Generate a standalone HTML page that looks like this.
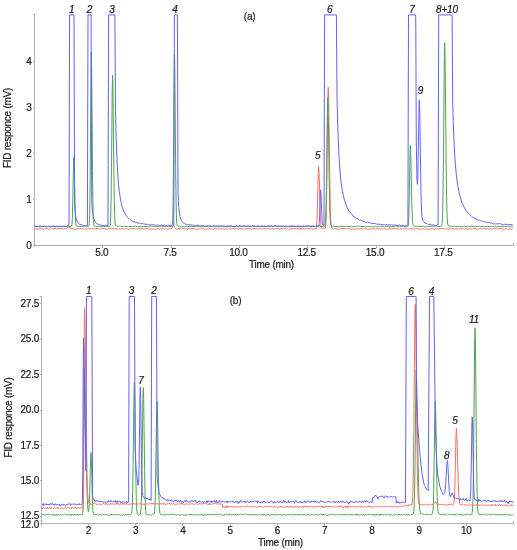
<!DOCTYPE html>
<html><head><meta charset="utf-8"><title>FID chromatograms</title>
<style>html,body{margin:0;padding:0;background:#fff;width:517px;height:550px;overflow:hidden}
svg{display:block;filter:blur(0.3px);font-family:"Liberation Sans",sans-serif}</style></head>
<body>
<svg width="517" height="550" viewBox="0 0 517 550">
<rect width="517" height="550" fill="#fff"/>
<g stroke="#b0b0b0" stroke-width="1" fill="none" shape-rendering="crispEdges">
<path d="M34.5,14.5V247M33,245.5H513.5M513,245.5V243M32.5,14.9H34.5"/>
<path d="M32.5,245.5H34.5"/>
<path d="M32.5,199.4H34.5"/>
<path d="M32.5,153.3H34.5"/>
<path d="M32.5,107.2H34.5"/>
<path d="M32.5,61.1H34.5"/>
<path d="M102.8,245.5V247.5"/>
<path d="M171.1,245.5V247.5"/>
<path d="M239.4,245.5V247.5"/>
<path d="M307.7,245.5V247.5"/>
<path d="M376.0,245.5V247.5"/>
<path d="M444.3,245.5V247.5"/>
<path d="M41.5,296V525.5M40,523.5H513.5M513,523.5V521M39.5,296.5H41.5"/>
<path d="M39.5,523.5H41.5"/>
<path d="M39.5,516.4H41.5"/>
<path d="M39.5,480.9H41.5"/>
<path d="M39.5,445.5H41.5"/>
<path d="M39.5,410.0H41.5"/>
<path d="M39.5,374.5H41.5"/>
<path d="M39.5,339.0H41.5"/>
<path d="M39.5,303.6H41.5"/>
<path d="M88.3,523.5V525.5"/>
<path d="M135.6,523.5V525.5"/>
<path d="M182.8,523.5V525.5"/>
<path d="M230.1,523.5V525.5"/>
<path d="M277.3,523.5V525.5"/>
<path d="M324.6,523.5V525.5"/>
<path d="M371.8,523.5V525.5"/>
<path d="M419.1,523.5V525.5"/>
<path d="M466.3,523.5V525.5"/>
</g>
<g fill="none" stroke-width="1" stroke-linejoin="round">
<path d="M34.80,229.18 35.60,228.75 36.40,228.95 37.20,228.91 38.00,229.29 40.40,228.56 41.20,228.53 42.00,228.83 42.80,228.86 43.60,229.03 44.40,228.69 45.20,228.87 46.80,228.32 48.40,229.22 49.20,229.04 50.00,229.21 50.80,229.14 51.60,228.44 52.40,228.74 53.20,229.22 54.00,228.62 54.80,228.46 55.60,228.90 56.40,228.99 59.60,228.48 62.00,228.43 62.80,228.62 63.60,229.23 64.40,228.84 65.20,228.72 66.00,228.90 66.80,228.41 67.20,228.29 67.60,227.86 68.60,225.77 68.80,225.51 69.00,225.44 69.20,225.56 70.00,227.57 70.60,228.46 70.90,228.62 72.40,228.51 73.20,228.71 74.00,229.48 74.80,228.99 75.60,228.93 76.40,229.08 78.00,228.47 78.80,228.94 79.60,229.12 80.40,228.24 81.20,228.93 82.00,229.15 82.80,228.74 83.60,228.69 84.40,229.00 85.20,228.59 86.00,228.94 86.80,229.06 87.60,228.75 88.40,228.59 89.20,228.98 90.00,228.71 90.80,228.83 91.60,228.02 92.40,229.00 93.20,228.42 94.00,228.82 94.80,228.84 95.60,228.60 97.20,228.45 98.80,228.97 99.60,228.95 100.40,228.66 101.20,228.64 102.00,228.42 102.80,228.69 104.40,228.38 106.00,229.21 106.80,229.13 107.60,229.20 108.40,228.36 109.20,229.04 110.00,228.46 110.80,228.64 111.60,228.33 113.20,228.83 115.60,228.76 116.40,228.95 117.20,228.81 118.00,228.36 118.80,229.27 119.60,228.73 120.40,229.05 122.00,228.57 122.80,228.82 123.60,228.59 124.40,229.24 125.20,228.50 126.00,228.97 126.80,228.63 127.60,228.75 128.40,229.52 129.20,229.01 130.80,228.37 131.60,228.72 132.40,228.73 133.20,229.19 134.00,228.41 134.80,228.30 135.60,228.80 136.40,228.86 137.20,229.25 138.00,228.56 138.80,228.06 139.60,228.61 140.40,228.45 141.20,228.65 142.00,229.08 142.80,228.43 143.60,229.15 144.40,228.86 146.00,228.56 146.80,228.69 147.60,228.70 148.40,229.01 149.20,229.16 150.00,228.79 151.60,229.17 152.40,229.15 153.20,228.94 154.00,229.32 154.80,229.18 155.60,229.26 156.40,228.75 157.20,228.69 158.00,228.25 158.80,229.22 159.60,228.99 160.40,228.55 161.20,228.86 162.00,228.89 162.80,228.33 163.60,228.90 164.40,229.12 165.20,229.17 166.00,228.71 166.80,228.72 167.60,229.18 168.40,229.08 169.20,228.66 170.00,228.64 170.80,228.97 171.20,228.75 172.00,228.00 173.00,226.10 173.40,225.54 173.60,225.43 173.80,225.55 174.00,225.86 174.60,227.31 175.20,228.44 175.70,228.93 176.40,229.39 177.20,228.88 178.80,228.37 179.60,229.41 180.40,228.08 181.20,229.12 182.00,228.54 182.80,228.46 183.60,228.53 184.40,228.76 185.20,229.13 186.00,228.63 187.60,229.50 188.40,228.02 189.20,228.61 190.00,228.30 190.80,229.06 191.60,228.40 193.20,228.37 194.80,229.14 195.60,228.85 196.40,229.41 197.20,229.27 198.00,228.78 198.80,229.08 199.60,228.85 200.40,228.83 201.20,228.27 202.00,228.45 202.80,228.82 203.60,228.47 204.40,229.02 205.20,228.90 206.00,228.55 206.80,229.15 207.60,228.88 208.40,229.17 210.00,228.35 210.80,229.01 211.60,228.74 212.40,229.05 214.00,229.15 214.80,228.40 215.60,228.15 216.40,228.67 217.20,229.00 218.00,228.61 218.80,228.90 219.60,228.58 220.40,228.72 222.00,228.64 222.80,228.96 223.60,228.92 224.40,229.28 225.20,228.93 226.00,229.20 226.80,228.84 227.60,229.07 228.40,228.78 229.20,228.68 230.00,229.20 230.80,229.03 231.60,229.06 232.40,228.60 233.20,228.33 234.80,228.90 235.60,228.40 236.40,229.22 237.20,228.39 238.80,229.57 239.60,228.07 240.40,228.37 241.20,229.09 242.00,228.76 242.80,228.86 243.60,228.78 244.40,229.21 246.00,228.67 246.80,228.74 247.60,228.47 248.40,228.78 249.20,228.15 250.00,229.00 250.80,228.73 251.60,229.33 252.40,229.15 253.20,228.44 254.00,229.06 254.80,228.66 256.40,229.09 257.20,228.90 258.80,228.94 259.60,228.60 260.40,228.62 261.20,228.96 262.00,229.05 262.80,228.73 263.60,228.83 264.40,228.52 265.20,228.07 266.00,228.57 266.80,228.81 267.60,228.85 268.40,229.04 270.00,229.08 270.80,228.91 271.60,228.92 272.40,228.60 273.20,228.91 274.00,228.86 274.80,229.14 275.60,228.35 276.40,228.66 277.20,228.31 278.00,228.58 278.80,228.39 279.60,228.87 280.40,228.61 281.20,228.06 282.00,229.14 282.80,228.48 283.60,228.33 284.40,228.69 286.00,228.45 286.80,228.99 287.60,228.69 288.40,229.05 290.00,228.98 292.40,228.68 293.20,229.21 294.00,228.24 295.60,228.60 296.40,228.91 298.00,228.65 298.80,228.69 299.60,229.28 301.20,227.98 302.00,229.33 302.80,228.52 304.40,228.84 305.20,228.41 306.00,229.14 307.60,228.39 308.40,228.86 309.20,228.92 310.00,228.77 310.80,228.93 311.60,228.36 312.40,229.06 313.20,228.56 314.00,229.16 314.80,228.61 316.00,228.87 316.30,228.44 316.50,227.45 316.80,224.18 317.00,220.50 317.40,208.53 318.20,173.73 318.40,168.25 318.60,166.28 318.80,167.48 319.10,173.39 320.20,211.50 320.50,218.81 320.90,224.66 321.20,226.97 321.60,228.05 321.80,228.20 322.00,228.20 322.80,228.76 323.60,228.37 324.60,228.75 325.00,228.71 325.20,228.51 325.50,227.40 325.80,224.84 326.10,219.47 326.40,209.49 326.90,178.60 327.80,100.39 328.00,90.59 328.20,87.21 328.40,89.60 328.70,101.16 329.80,179.69 330.40,209.75 330.70,218.26 331.10,224.32 331.50,226.77 331.90,227.97 332.40,228.71 333.20,229.12 334.00,228.94 334.80,228.60 335.60,228.62 337.20,228.99 338.00,228.80 338.80,229.28 339.60,229.17 340.40,228.58 341.20,228.94 342.80,228.46 344.40,228.80 345.20,228.20 346.80,228.90 347.60,228.60 348.40,228.69 349.20,229.05 350.00,228.78 350.80,228.85 351.60,229.36 352.40,228.85 354.00,228.93 354.80,229.27 355.60,228.90 357.20,228.78 358.00,229.13 358.80,228.62 359.60,229.15 360.40,228.87 361.20,228.43 362.00,229.00 362.80,228.95 363.60,228.50 364.40,228.91 365.20,228.89 366.80,228.51 367.60,229.43 368.40,229.04 370.00,229.11 371.60,229.04 372.40,228.72 373.20,229.06 374.00,228.77 374.80,228.69 375.60,229.01 376.40,228.77 377.20,228.34 378.80,228.98 379.60,228.82 380.40,229.06 381.20,228.73 382.00,228.56 382.80,229.04 383.60,228.86 384.40,228.49 385.20,228.94 386.00,228.75 386.80,229.09 388.40,228.95 389.20,228.20 390.00,228.92 391.60,228.96 393.20,228.62 394.00,228.75 394.80,228.23 395.60,228.74 396.40,228.40 397.20,228.73 398.00,228.64 398.80,229.20 399.60,228.84 401.20,228.87 402.00,229.40 402.80,228.56 403.60,228.91 406.00,228.87 406.80,228.69 407.60,229.16 408.40,229.06 409.20,228.72 412.40,229.03 413.20,228.82 414.00,228.48 414.80,229.10 415.60,228.38 416.40,228.57 417.20,228.93 418.00,228.59 418.80,229.21 419.60,229.28 421.20,228.92 422.80,228.95 423.60,228.78 424.40,229.39 425.20,228.67 426.00,229.20 426.80,228.99 427.60,228.92 428.40,229.12 429.20,229.18 430.00,229.08 431.60,228.64 432.40,228.65 433.20,229.08 434.80,229.06 435.60,228.68 436.40,229.37 437.20,228.46 438.00,228.94 438.80,229.02 440.40,228.52 441.20,228.71 442.00,228.51 442.80,228.77 443.60,228.46 444.40,228.46 445.20,228.83 446.00,228.41 446.80,228.76 447.60,228.78 448.40,229.06 450.00,228.59 450.80,229.17 451.60,228.62 453.20,228.73 454.00,229.41 454.80,228.83 455.60,228.62 456.40,229.02 457.20,228.78 458.00,229.46 458.80,228.62 459.60,228.99 460.40,228.56 461.20,229.31 462.00,228.61 462.80,228.87 463.60,228.58 464.40,229.06 465.20,228.98 466.00,228.18 466.80,229.03 468.40,228.88 469.20,229.09 470.00,228.47 470.80,228.33 471.60,229.00 472.40,229.28 473.20,228.48 474.80,228.58 475.60,228.48 476.40,229.04 477.20,228.85 478.00,229.19 478.80,229.20 479.60,228.53 480.40,228.99 481.20,228.17 482.00,228.78 482.80,228.98 484.40,228.31 486.00,229.14 486.80,228.70 487.60,228.42 488.40,228.94 489.20,229.02 490.00,228.52 491.60,229.11 492.40,228.91 493.20,229.01 494.00,228.72 494.80,228.77 495.60,228.49 496.40,228.61 497.20,229.24 498.00,228.69 498.80,228.56 499.60,228.68 500.40,228.52 501.20,228.96 502.00,229.07 502.80,228.55 503.60,229.10 504.40,229.40 505.20,228.52 506.00,229.00 506.80,228.89 507.60,229.19 509.20,229.12 510.80,228.70 511.60,229.44 512.40,228.60 512.90,228.93" stroke="#ff6c6c"/>
<path d="M34.80,226.80 35.60,226.39 36.40,226.51 37.20,226.44 38.00,226.81 38.80,226.57 40.40,226.66 41.20,226.91 42.80,226.33 44.40,226.61 46.00,226.36 46.80,227.01 47.60,226.52 49.20,226.37 50.00,226.19 51.60,226.44 53.20,226.35 54.00,226.60 54.80,226.51 56.40,226.14 57.20,226.53 58.80,226.46 59.60,226.25 60.40,226.50 61.20,226.23 62.00,226.68 65.20,226.31 66.00,226.78 67.60,226.44 69.20,226.78 70.00,226.31 71.00,226.38 71.30,226.29 71.50,226.09 71.80,225.28 72.00,223.95 72.40,217.17 72.80,201.36 73.50,162.89 73.70,157.55 73.80,156.87 74.20,166.76 75.20,211.62 75.60,220.91 75.80,223.30 76.10,225.20 76.40,225.97 76.70,226.19 77.20,226.22 78.00,226.46 78.80,226.25 79.60,226.35 80.40,226.59 81.20,226.42 82.00,226.51 82.80,226.28 83.60,226.58 84.40,226.55 86.00,226.06 86.80,226.11 87.60,226.47 88.20,226.44 88.60,226.28 88.90,225.80 89.10,224.98 89.30,223.29 89.50,219.91 89.90,202.82 90.30,163.59 91.00,67.23 91.20,53.62 91.30,51.82 91.50,59.07 91.70,74.87 92.50,170.54 92.90,202.82 93.20,215.82 93.50,222.19 93.90,225.38 94.10,225.94 94.50,226.32 94.80,226.40 95.60,226.12 96.40,226.44 98.80,226.28 99.60,226.47 100.40,226.33 101.20,226.60 102.00,226.51 102.80,226.64 103.60,226.25 105.20,226.60 106.80,226.51 107.60,226.34 108.40,226.77 108.90,226.70 109.50,226.54 109.90,226.05 110.10,225.34 110.30,223.92 110.70,217.07 111.10,200.05 111.50,167.51 112.20,93.01 112.40,79.95 112.60,75.26 112.80,80.86 113.00,92.15 113.90,174.00 114.30,201.08 114.80,218.58 115.10,222.92 115.30,224.43 115.60,225.56 116.00,225.93 116.40,225.94 117.20,226.17 118.00,226.19 118.80,226.45 119.60,226.03 120.40,226.08 121.20,226.31 122.00,226.30 122.80,226.81 123.60,226.33 124.40,226.48 126.00,226.33 127.60,226.78 128.40,226.40 129.20,226.61 131.60,226.54 132.40,226.90 133.20,226.25 134.00,226.43 135.60,226.12 137.20,226.82 138.00,226.65 138.80,226.71 140.40,226.47 141.20,226.86 142.00,226.42 142.80,226.77 143.60,226.43 147.60,226.60 148.40,226.80 150.00,226.15 150.80,226.13 152.40,226.36 153.20,226.62 154.00,226.23 154.80,226.50 156.40,226.55 157.20,226.48 158.00,226.57 158.80,226.51 159.60,226.69 160.40,226.56 161.20,226.07 162.00,226.51 162.80,226.54 164.40,226.36 165.20,226.70 166.80,226.33 168.40,226.47 169.20,226.21 170.00,226.62 170.80,226.48 171.60,226.56 172.00,226.11 172.20,225.53 172.40,224.31 172.70,220.14 173.10,203.44 173.50,164.62 174.20,69.33 174.40,55.94 174.50,54.19 174.70,62.00 174.90,77.81 175.70,171.48 176.20,208.05 176.50,218.18 176.80,222.85 177.00,224.29 177.30,225.32 177.60,225.88 178.00,226.32 178.80,226.03 179.60,226.30 180.40,226.43 181.20,226.24 182.80,226.77 183.60,226.48 184.40,226.70 186.00,226.37 186.80,226.39 187.60,226.16 189.20,226.74 190.00,226.60 191.60,226.69 192.40,226.39 194.00,226.84 194.80,226.35 195.60,226.50 198.00,226.37 198.80,226.48 199.60,226.26 200.40,226.41 202.00,226.41 202.80,226.76 203.60,226.52 205.20,226.45 206.00,226.74 206.80,226.19 208.40,226.71 209.20,226.81 210.00,226.54 210.80,226.51 211.60,226.62 212.40,226.47 213.20,226.61 214.00,226.39 214.80,226.63 216.40,226.31 217.20,226.02 218.00,226.68 218.80,226.58 219.60,226.65 220.40,226.35 221.20,226.71 222.80,226.50 223.60,226.67 225.20,226.58 226.00,226.88 228.40,226.47 229.20,226.53 230.00,226.82 231.60,226.35 234.00,226.66 234.80,226.38 236.40,226.71 237.20,226.64 238.00,226.23 238.80,226.46 239.60,226.28 240.40,226.58 241.20,226.32 242.00,226.61 242.80,226.53 243.60,226.04 245.20,226.59 247.60,226.27 249.20,226.82 250.00,226.55 251.60,226.48 252.40,226.25 253.20,226.44 254.00,226.35 254.80,226.70 255.60,226.34 256.40,226.11 257.20,226.35 258.80,226.47 259.60,226.17 260.40,226.67 262.80,226.36 263.60,226.58 264.40,226.44 265.20,226.55 266.00,226.48 266.80,226.52 267.60,226.71 269.20,226.34 270.00,226.68 271.60,226.37 272.40,226.69 273.20,226.46 274.00,226.69 274.80,226.29 275.60,226.07 276.40,226.12 277.20,226.54 278.00,226.36 279.60,226.48 280.40,226.21 281.20,226.74 282.00,226.30 282.80,226.51 283.60,226.24 285.20,226.62 286.80,226.36 287.60,226.49 288.40,226.41 290.00,226.89 290.80,226.33 293.20,226.49 294.00,226.31 294.80,226.58 295.60,226.63 296.40,226.53 297.20,226.28 298.00,226.75 298.80,226.28 299.60,226.62 300.40,226.70 301.20,226.27 302.80,226.74 304.40,226.33 305.20,226.28 306.00,226.58 307.60,226.37 308.40,226.62 309.20,226.43 310.80,226.60 312.40,226.49 314.00,226.60 314.80,226.58 315.60,226.29 316.40,226.46 318.00,226.28 318.80,226.39 319.60,226.08 320.40,226.65 321.20,226.35 322.00,226.56 322.80,226.16 323.60,226.18 324.30,226.71 324.40,226.76 324.50,226.68 324.80,226.27 325.00,225.70 325.40,222.93 325.70,218.03 326.00,208.97 326.50,181.05 327.40,109.84 327.60,100.88 327.80,97.78 328.00,102.35 328.30,116.03 329.20,179.54 329.70,205.55 330.00,214.88 330.30,220.52 330.70,224.22 330.90,225.08 331.20,225.68 331.60,225.92 332.40,226.69 333.20,226.21 334.00,226.56 334.80,226.21 336.40,226.59 337.20,226.37 338.00,226.61 339.60,226.74 340.40,226.47 342.00,226.28 342.80,226.50 343.60,226.28 344.40,226.47 345.20,226.50 346.80,226.29 347.60,226.55 350.00,226.47 350.80,226.65 351.60,226.30 352.40,226.56 353.20,226.40 354.00,226.64 354.80,226.42 355.60,226.42 356.40,226.57 357.20,226.12 358.00,226.42 358.80,226.16 359.60,226.32 360.40,226.61 362.00,226.41 364.40,226.55 365.20,226.83 366.00,226.54 366.80,226.90 367.60,226.43 368.40,226.63 370.80,226.44 371.60,226.76 372.40,226.82 373.20,226.69 374.00,226.87 374.80,226.67 375.60,226.20 376.40,226.69 377.20,226.38 378.00,226.75 378.80,226.44 379.60,226.56 380.40,226.51 382.00,226.17 382.80,226.46 383.60,226.47 384.40,226.68 385.20,226.39 386.00,226.54 386.80,226.34 387.60,226.50 388.40,226.18 389.20,226.86 390.80,226.33 391.60,226.56 392.40,226.64 393.20,226.55 394.00,226.75 394.80,226.48 395.60,226.05 396.40,226.29 397.20,226.70 398.80,226.57 399.60,226.31 400.40,226.65 401.20,226.62 402.00,226.33 402.80,226.34 403.60,226.57 405.20,226.78 406.00,226.63 406.80,226.91 407.40,226.43 407.80,226.01 408.00,225.59 408.30,224.01 408.60,220.14 408.80,215.59 409.20,200.22 410.00,154.96 410.20,147.99 410.40,145.54 410.80,155.94 411.60,194.96 412.00,210.31 412.50,220.76 412.80,223.60 413.10,224.96 413.50,225.81 414.00,226.28 414.80,226.44 415.60,226.34 416.40,226.65 417.20,226.11 418.00,226.85 419.60,226.48 422.00,226.40 422.80,226.50 423.60,226.25 424.40,226.86 425.20,226.47 426.00,226.60 426.80,226.45 427.60,226.44 428.40,226.65 429.20,226.60 430.00,226.34 431.60,226.61 432.40,226.11 433.20,226.06 434.00,226.76 435.60,226.03 436.40,226.34 438.80,226.59 439.60,226.53 440.40,226.59 441.00,226.37 441.50,226.10 441.80,225.49 442.00,224.52 442.20,222.68 442.50,217.30 442.80,206.76 443.30,171.80 444.30,59.89 444.50,47.07 444.70,42.62 444.90,49.61 445.20,69.41 446.10,159.80 446.60,196.63 446.90,209.86 447.20,217.85 447.60,223.09 448.00,225.04 448.30,225.59 448.60,225.84 450.00,226.19 451.60,226.37 452.40,226.20 453.20,226.57 454.00,226.14 455.60,226.55 457.20,226.56 458.00,226.41 458.80,226.58 459.60,226.24 461.20,226.88 462.00,226.60 462.80,226.83 463.60,226.47 464.40,226.27 465.20,226.35 466.00,226.72 466.80,226.62 467.60,226.15 468.40,226.42 469.20,226.48 470.80,226.03 472.40,226.46 474.00,226.37 474.80,226.60 475.60,226.68 476.40,226.48 477.20,226.66 478.00,226.50 478.80,226.47 479.60,226.06 480.40,226.65 483.60,226.30 484.40,226.58 486.00,226.79 486.80,226.66 487.60,226.39 489.20,226.68 491.60,226.40 492.40,226.60 493.20,226.54 494.00,226.83 494.80,226.71 495.60,226.20 496.40,226.90 497.20,226.56 498.00,226.45 499.60,226.64 500.40,226.51 502.00,226.51 502.80,226.84 503.60,226.52 504.40,226.65 507.60,226.33 508.40,226.59 509.20,226.32 511.60,226.24 512.40,226.52 512.90,226.53" stroke="#4ea54e"/>
<path d="M34.80,226.27 35.60,226.19 37.20,226.51 38.00,226.39 38.80,226.54 40.40,225.90 41.20,226.40 42.00,226.44 42.80,226.13 44.40,226.24 45.20,226.53 46.80,226.08 47.60,226.64 48.40,226.40 49.20,226.79 50.00,226.63 50.80,226.78 51.60,226.33 52.40,226.62 53.20,226.19 54.80,226.32 55.60,226.96 56.40,226.42 57.20,226.28 58.00,226.24 58.80,226.69 59.60,226.40 60.40,226.54 61.20,226.49 62.00,225.98 62.80,226.49 64.40,226.02 65.20,226.43 66.90,226.20 67.20,226.09 67.50,225.82 68.50,224.29 68.70,224.20 69.00,224.49 69.60,14.90 74.00,14.90 74.60,202.45 75.20,212.10 75.60,215.81 76.00,217.96 76.70,220.32 77.70,222.41 78.00,222.89 78.80,223.47 79.60,224.23 81.20,224.50 82.00,225.31 82.80,225.23 83.60,225.55 84.40,225.50 85.20,225.95 86.80,225.82 87.40,225.63 88.00,14.90 91.10,14.90 91.70,198.26 92.20,207.82 92.60,212.28 93.00,215.31 93.30,216.92 93.80,218.73 94.60,220.85 95.60,222.71 96.30,223.41 96.90,223.84 97.20,224.01 98.00,223.92 98.80,224.77 99.20,224.87 99.60,224.97 100.40,224.97 101.20,225.25 102.00,225.39 102.80,225.75 103.60,225.53 104.40,225.72 105.20,225.34 106.80,225.77 107.60,225.62 108.00,225.77 108.60,14.90 114.90,14.90 115.50,110.72 116.00,132.07 116.50,147.85 117.60,171.26 118.00,177.65 118.60,184.88 119.30,191.33 120.10,196.97 121.10,202.52 122.00,206.22 124.40,212.92 126.80,216.71 127.60,217.26 128.40,218.36 129.20,218.54 130.00,219.36 131.60,220.59 132.40,220.88 133.20,221.78 134.00,221.88 134.80,221.77 135.60,222.74 136.40,222.17 137.20,223.11 138.00,222.63 138.80,223.26 139.60,222.99 140.40,223.33 141.20,223.94 142.00,223.31 142.80,223.38 143.60,223.92 145.20,224.16 146.00,224.48 146.80,224.00 147.60,224.53 148.40,224.48 149.20,224.76 150.00,224.78 150.80,225.02 151.60,224.38 152.40,224.83 153.20,224.58 154.80,225.14 155.60,225.08 156.40,225.19 157.20,225.08 158.00,225.22 158.80,225.24 159.60,225.57 160.40,225.45 161.20,224.80 162.00,225.47 162.80,225.61 164.40,224.98 165.20,225.80 166.00,225.48 166.80,225.62 167.60,225.96 168.40,225.29 169.20,225.52 170.00,225.51 170.80,225.76 171.60,225.44 172.40,225.74 173.20,225.65 173.80,225.86 174.40,14.90 177.40,14.90 178.00,191.20 178.40,201.17 178.80,207.41 179.40,213.10 180.10,216.76 181.20,220.19 182.20,221.79 182.80,222.42 183.60,222.76 184.40,223.39 186.80,224.85 187.60,224.39 188.40,224.54 189.20,224.98 190.00,224.90 192.40,225.03 193.20,225.47 194.00,224.98 194.80,225.79 195.60,225.25 196.40,225.39 197.20,225.32 198.00,225.08 198.80,225.21 199.60,225.97 200.40,226.14 201.20,225.47 202.00,226.00 203.60,225.52 204.40,226.23 205.20,226.37 206.00,225.73 207.60,225.90 208.40,225.83 210.00,226.28 210.80,225.92 212.40,226.35 213.20,225.76 214.00,225.93 214.80,225.81 215.60,226.20 216.40,226.12 217.20,226.22 218.00,226.20 218.80,225.90 219.60,226.18 220.40,225.87 221.20,225.88 222.00,225.42 222.80,226.37 223.60,225.75 224.40,226.02 225.20,226.01 226.00,226.41 227.60,225.81 228.40,226.04 229.20,226.00 230.00,226.11 230.80,225.71 231.60,226.04 232.40,226.65 233.20,226.24 234.80,226.95 235.60,226.20 236.40,225.69 238.00,226.39 238.80,226.33 239.60,225.76 240.40,226.03 242.00,226.09 242.80,226.07 243.60,225.86 244.40,225.93 245.20,226.03 246.00,226.38 246.80,225.95 247.60,226.29 248.40,225.80 249.20,226.45 250.00,226.14 250.80,226.11 251.60,226.47 252.40,225.63 253.20,225.71 254.00,226.24 254.80,225.90 255.60,226.01 256.40,226.84 257.20,226.05 258.00,226.14 258.80,226.10 259.60,226.42 260.40,226.20 261.20,226.18 262.00,225.80 262.80,226.04 263.60,226.14 264.40,225.71 265.20,226.29 266.00,226.25 266.80,226.64 267.60,225.71 268.40,225.88 270.00,225.96 270.80,226.12 271.60,226.09 272.40,226.22 274.00,226.14 274.80,225.74 276.40,226.17 277.20,226.32 278.00,226.33 278.80,225.72 279.60,226.02 281.20,226.26 282.00,226.47 283.60,225.92 284.40,226.28 286.80,226.14 287.60,226.61 288.40,226.24 289.20,226.41 290.00,225.93 290.80,226.39 292.40,225.75 293.20,226.26 294.00,226.34 294.80,226.13 295.60,226.18 296.40,226.46 298.00,225.62 298.80,226.25 299.60,226.24 300.40,226.47 301.20,226.10 302.00,226.53 302.80,226.49 303.60,225.83 304.40,226.44 305.20,225.89 306.00,225.77 306.80,226.12 307.60,226.04 308.40,225.65 309.20,226.25 310.80,226.57 312.40,225.79 313.20,225.93 314.00,226.46 315.60,226.34 316.40,226.12 317.20,226.26 318.50,226.05 318.80,225.71 319.00,225.12 319.20,223.81 319.40,221.31 319.70,214.45 320.30,194.08 320.50,190.29 320.60,189.78 320.80,190.88 321.00,194.02 321.80,214.38 322.30,222.36 322.50,223.95 322.80,225.23 323.10,225.65 323.60,225.65 324.00,225.86 324.60,14.90 336.40,14.90 337.00,96.99 337.80,127.90 338.80,152.89 339.80,169.10 340.60,177.89 341.20,183.40 342.40,190.76 343.30,195.24 344.40,200.01 346.00,204.70 346.80,206.69 348.20,209.68 349.10,211.29 349.20,211.45 350.00,212.00 350.80,213.31 351.60,214.14 352.40,214.77 353.20,216.29 354.80,217.08 355.60,217.59 356.40,218.33 357.20,218.42 358.80,219.89 359.60,220.18 360.40,220.05 361.20,220.46 362.00,221.41 362.80,220.79 363.60,221.25 364.40,221.28 365.20,221.98 366.00,222.16 366.80,222.59 367.60,221.76 368.40,222.67 369.20,222.35 370.00,223.11 370.80,223.03 371.60,223.67 373.20,223.18 374.00,223.91 374.80,223.37 375.60,223.67 376.40,224.15 378.80,224.13 380.40,224.49 381.20,224.41 382.00,224.68 382.80,224.82 384.40,224.33 385.20,225.05 386.00,224.68 387.60,225.05 388.40,224.59 389.20,225.01 390.00,224.49 390.80,225.16 391.60,224.88 393.20,225.27 394.00,224.93 394.80,225.17 395.60,224.99 397.20,225.51 398.00,225.27 398.80,225.25 399.60,225.03 400.40,225.57 401.20,225.35 402.00,225.84 402.80,225.21 403.60,225.71 404.40,225.93 405.20,225.47 406.00,225.16 406.80,225.91 407.90,225.78 408.50,14.90 415.60,14.90 415.70,16.43 415.80,28.71 416.30,141.31 416.80,173.42 417.00,179.71 417.30,184.15 417.40,184.40 417.50,183.93 417.60,182.73 417.90,174.53 419.00,108.63 419.20,101.70 419.30,100.09 419.40,99.85 419.80,115.19 421.00,194.60 421.50,210.45 421.80,214.88 422.10,217.35 422.50,219.43 423.00,220.82 423.60,221.74 425.20,223.07 426.00,222.96 426.80,223.31 427.60,224.10 428.40,224.47 429.20,224.38 430.00,224.07 430.80,225.39 431.60,224.59 432.40,225.14 433.20,224.65 434.00,225.32 434.80,225.18 435.60,225.58 436.40,225.50 437.20,224.90 438.10,225.15 438.70,14.90 452.10,14.90 452.70,102.35 453.20,120.52 453.80,136.77 454.80,156.34 455.40,164.70 456.20,173.52 457.00,180.43 457.90,186.51 459.10,192.52 460.00,196.14 462.00,202.74 462.80,204.31 463.60,206.44 465.20,209.09 466.00,210.82 466.80,211.34 468.80,213.79 470.80,215.84 471.60,216.28 472.40,216.94 473.20,217.29 474.00,218.15 474.80,218.20 477.20,219.56 478.00,219.63 478.80,220.55 479.60,220.26 480.40,220.59 482.00,221.05 482.80,221.56 483.60,221.66 484.40,221.61 486.00,222.09 486.80,222.73 487.60,222.32 488.40,222.29 489.20,222.47 490.00,222.82 490.80,223.44 491.60,222.86 492.40,223.28 493.20,224.04 494.00,223.34 494.80,223.95 495.60,223.99 496.40,223.89 497.20,223.45 498.00,223.98 498.80,223.88 499.60,223.54 500.40,223.66 501.20,224.19 502.00,224.29 502.80,224.64 503.60,224.54 504.40,224.28 506.00,224.47 506.80,224.28 507.60,224.81 509.20,224.49 510.00,224.57 510.80,224.47 512.40,224.93 512.90,224.84" stroke="#6262fa"/>
<path d="M42.00,514.55 43.20,514.78 43.80,514.66 44.40,515.06 45.00,514.46 45.60,514.96 46.20,514.51 46.80,514.66 47.40,514.31 48.00,514.71 48.60,514.34 49.20,515.03 49.80,514.49 50.40,514.78 51.00,514.63 51.60,514.68 52.20,514.37 52.80,515.42 53.40,514.59 54.00,515.23 54.60,514.27 55.20,515.40 55.80,515.06 56.40,515.30 57.00,514.12 57.60,515.16 58.20,514.66 58.80,514.89 59.40,515.34 60.00,514.82 60.60,514.47 61.20,514.77 61.80,514.37 62.40,514.83 63.00,514.70 63.60,514.84 64.20,514.58 64.80,514.03 65.40,514.57 66.00,514.63 66.60,514.92 67.20,514.97 67.80,514.18 68.40,515.10 69.00,515.03 69.60,514.74 70.20,514.85 70.80,514.01 71.40,515.54 72.00,514.57 72.60,514.45 73.20,515.10 73.80,514.93 75.00,514.12 75.60,515.03 76.20,515.26 76.80,514.36 77.40,514.16 78.60,515.49 79.20,514.19 79.80,514.77 80.40,514.30 81.00,514.72 82.10,514.85 82.20,514.84 82.40,514.53 82.60,513.95 82.80,512.54 83.00,509.16 83.30,494.22 84.10,379.16 84.30,367.67 84.40,367.98 84.60,370.81 85.00,384.16 86.20,456.31 86.70,480.99 87.10,494.73 87.60,505.52 88.00,510.01 88.20,511.20 88.40,511.79 88.50,511.85 88.60,511.72 88.80,510.88 89.10,507.70 89.60,496.09 90.60,458.01 90.80,453.80 91.00,452.42 91.20,454.47 91.40,459.83 92.20,494.50 92.60,506.13 92.90,510.60 93.20,512.93 93.60,514.25 93.80,514.49 94.20,514.72 94.80,514.51 95.40,514.56 96.00,514.32 96.60,514.52 97.20,514.07 97.80,514.23 98.40,514.72 99.00,514.85 99.60,514.39 100.20,514.52 100.80,514.74 101.40,515.23 102.00,515.35 102.60,514.58 103.20,514.43 103.80,514.42 104.40,515.16 105.00,514.33 105.60,514.89 106.20,514.56 106.80,514.55 107.40,514.99 108.00,514.91 108.60,515.44 109.20,515.03 109.80,515.34 110.40,514.55 111.00,514.68 111.60,514.38 112.20,514.58 112.80,514.93 113.40,514.58 114.00,514.84 114.60,514.49 115.20,514.59 115.80,515.05 116.40,514.70 117.00,514.68 117.60,514.81 118.80,514.09 119.40,514.83 120.00,514.83 120.60,515.50 121.20,514.75 121.80,514.86 122.40,515.47 123.00,514.60 123.60,514.49 124.20,514.96 124.80,514.83 125.40,515.05 126.00,514.43 126.60,515.24 127.20,514.81 127.80,514.01 128.40,514.68 129.00,514.54 129.60,514.75 130.20,515.12 131.10,514.48 131.60,513.68 131.80,512.85 132.00,511.28 132.20,508.22 132.70,492.24 133.10,467.57 133.90,400.78 134.20,385.51 134.40,382.59 134.60,385.75 134.80,394.92 135.80,475.39 136.30,500.06 136.60,507.74 136.90,511.68 137.30,513.72 137.60,514.40 138.00,514.97 138.60,515.11 139.20,514.67 140.10,514.61 140.40,514.29 140.70,512.86 140.90,511.06 141.20,506.20 141.60,493.02 141.90,476.46 142.90,399.43 143.10,390.67 143.30,387.68 143.50,390.75 143.70,399.42 144.60,469.65 145.10,497.49 145.30,503.99 145.60,509.96 145.90,512.90 146.10,513.89 146.40,514.61 146.70,514.60 147.00,514.42 147.60,514.72 148.20,514.66 148.80,515.05 149.40,514.92 150.00,514.64 150.60,515.06 151.20,515.15 151.80,514.82 152.40,514.28 153.00,514.63 153.60,514.09 153.90,514.17 154.20,513.86 154.60,511.57 155.00,505.39 155.40,491.97 156.50,417.63 156.80,404.26 157.00,401.64 157.20,404.01 157.50,414.96 158.50,477.87 159.00,499.44 159.30,506.73 159.60,510.93 160.00,513.45 160.20,513.99 160.50,514.32 161.40,514.53 162.00,514.53 162.60,514.65 163.20,514.98 163.80,514.80 164.40,515.04 165.00,514.35 165.60,515.45 166.20,514.78 166.80,513.86 167.40,514.82 168.00,515.10 169.20,514.24 169.80,514.76 170.40,514.48 171.60,514.83 172.20,513.58 172.80,514.68 173.40,514.89 174.00,514.88 174.60,514.57 175.80,514.43 176.40,514.65 177.00,515.21 177.60,514.51 178.20,514.81 178.80,514.80 179.40,515.23 180.00,514.91 180.60,514.96 181.20,514.72 181.80,515.22 182.40,514.68 183.00,514.66 183.60,515.10 184.20,514.92 184.80,515.01 185.40,514.38 186.00,515.60 186.60,514.82 187.20,515.29 188.40,514.40 189.00,514.93 189.60,514.65 190.20,515.00 190.80,514.01 191.40,514.38 192.00,514.30 192.60,515.17 193.20,515.09 193.80,514.32 194.40,514.77 195.00,514.79 195.60,514.58 196.20,515.15 196.80,514.43 197.40,514.70 198.00,514.53 198.60,514.94 199.20,514.52 199.80,514.95 200.40,514.36 201.00,514.30 202.20,514.52 202.80,514.48 203.40,515.66 204.00,514.41 204.60,514.80 205.20,514.67 205.80,514.80 206.40,515.20 208.20,514.20 208.80,514.92 209.40,515.02 210.00,514.19 210.60,515.02 211.20,513.97 211.80,514.68 212.40,515.02 213.00,514.35 213.60,514.10 214.20,515.21 214.80,514.15 215.40,514.80 216.00,514.17 216.60,514.84 217.20,515.26 217.80,514.52 218.40,514.37 219.00,513.96 219.60,514.09 220.80,514.79 221.40,514.89 222.00,514.81 222.60,515.00 223.20,514.80 223.80,515.60 224.40,514.64 225.00,514.71 225.60,513.79 226.20,514.43 226.80,514.87 227.40,514.50 228.00,515.14 228.60,514.92 229.20,515.36 229.80,514.19 230.40,514.49 231.00,515.12 232.20,514.37 233.40,514.57 234.00,515.01 234.60,514.93 235.80,514.38 236.40,515.00 237.00,515.10 237.60,514.30 238.20,515.03 238.80,514.32 239.40,514.62 240.60,514.08 241.20,514.46 241.80,514.43 242.40,515.03 243.00,514.95 243.60,514.47 244.20,514.16 244.80,514.21 245.40,513.88 246.00,514.59 246.60,514.63 247.20,514.35 247.80,514.70 248.40,514.72 249.00,515.07 249.60,514.35 250.20,515.08 250.80,514.52 251.40,515.21 252.00,514.31 252.60,515.07 253.20,514.40 253.80,515.27 254.40,514.86 255.00,514.28 255.60,514.99 256.20,514.68 256.80,514.87 257.40,515.52 258.00,514.59 258.60,514.55 259.20,515.10 259.80,514.50 260.40,514.98 261.00,515.06 261.60,514.70 262.20,514.94 262.80,513.89 263.40,515.25 264.00,514.44 264.60,514.35 265.20,515.40 265.80,515.32 266.40,514.50 267.00,514.87 268.20,514.30 268.80,514.83 269.40,515.08 270.00,515.67 270.60,514.63 271.20,515.03 271.80,514.59 272.40,514.62 273.00,515.19 273.60,514.09 274.20,514.32 274.80,514.40 275.40,515.12 276.00,514.85 277.20,514.85 277.80,515.10 278.40,514.55 279.00,514.62 279.60,514.57 280.20,514.88 280.80,514.24 281.40,514.64 282.00,515.67 282.60,514.93 283.20,514.72 283.80,514.36 284.40,514.81 285.00,514.79 285.60,514.94 286.20,514.47 286.80,514.86 288.00,514.97 288.60,514.50 289.80,515.30 290.40,514.48 291.00,514.95 291.60,514.58 292.20,514.57 292.80,514.28 293.40,514.33 294.00,514.91 294.60,514.76 295.20,515.16 295.80,514.11 296.40,514.55 297.00,514.21 298.20,515.43 298.80,514.16 299.40,514.67 300.60,514.68 301.20,514.47 301.80,514.51 302.40,515.27 303.00,514.32 303.60,514.89 304.20,514.87 304.80,514.09 305.40,514.38 306.60,515.36 307.20,514.64 307.80,514.51 308.40,514.73 309.00,515.14 309.60,514.98 310.20,515.15 310.80,514.63 311.40,514.41 312.00,514.34 312.60,514.96 313.20,514.62 313.80,514.51 314.40,514.88 315.00,514.75 315.60,513.95 316.20,514.63 316.80,514.39 317.40,514.86 318.00,514.69 318.60,515.31 319.20,514.71 320.40,513.96 321.00,514.28 322.80,514.92 324.00,514.48 324.60,514.98 325.20,514.37 325.80,515.05 326.40,515.33 327.00,515.06 327.60,515.29 328.20,515.19 328.80,514.30 329.40,514.77 330.00,514.62 330.60,514.29 331.20,514.26 331.80,514.88 332.40,514.23 333.00,514.57 333.60,514.70 334.20,514.55 334.80,515.21 336.60,514.49 337.20,514.83 337.80,514.75 338.40,514.36 339.00,514.20 339.60,514.43 340.20,514.25 340.80,514.85 341.40,514.81 342.00,514.59 342.60,514.81 343.20,514.88 343.80,514.12 344.40,514.77 345.00,515.04 346.20,514.05 346.80,514.67 347.40,514.27 348.00,514.86 349.20,514.95 349.80,514.75 350.40,514.05 351.00,515.11 351.60,514.12 352.20,515.06 353.40,514.41 354.60,514.60 355.20,515.29 355.80,514.57 356.40,515.06 357.00,513.79 357.60,514.78 358.20,514.64 358.80,515.11 359.40,514.87 360.00,515.16 360.60,514.35 361.20,514.80 361.80,514.50 362.40,514.95 363.00,514.88 363.60,514.25 364.20,515.05 364.80,515.34 365.40,514.56 366.00,515.11 366.60,514.86 367.20,514.38 367.80,514.99 368.40,514.39 369.00,514.94 369.60,514.17 370.20,514.23 370.80,514.87 371.40,514.78 372.00,515.00 373.20,514.29 373.80,515.22 374.40,514.38 375.00,515.17 375.60,515.01 376.20,515.34 376.80,513.96 377.40,514.68 378.00,514.62 378.60,514.94 379.20,514.32 379.80,515.45 381.00,513.92 381.60,514.84 382.80,514.46 383.40,514.99 384.60,514.36 385.20,514.63 385.80,514.57 386.40,514.83 387.00,514.59 387.60,514.68 388.20,514.19 389.40,514.79 390.00,515.57 390.60,514.45 391.20,514.43 391.80,515.03 392.40,515.41 393.00,515.11 393.60,514.37 394.20,515.08 395.40,514.62 396.00,514.27 396.60,514.71 397.20,514.74 397.80,514.90 398.40,514.12 399.00,514.32 400.20,515.20 400.80,514.98 401.40,514.50 402.00,514.96 402.60,514.39 403.20,514.57 403.80,514.60 404.40,514.47 405.00,514.53 405.60,515.01 406.20,514.82 406.80,513.87 407.40,515.13 408.00,514.87 408.60,514.32 409.20,514.76 410.40,515.17 411.00,514.51 411.60,514.34 412.20,514.20 412.80,514.61 413.20,514.06 413.60,512.97 413.90,510.81 414.20,505.41 414.50,495.13 415.00,463.85 415.90,383.48 416.10,373.33 416.30,369.73 416.90,390.87 418.00,456.48 418.70,489.02 419.00,497.99 419.40,505.82 419.80,509.92 420.20,512.18 420.50,513.27 420.60,513.54 420.80,513.66 421.80,513.80 422.40,514.11 423.00,513.94 423.60,514.32 424.20,514.27 424.80,514.83 425.40,514.35 426.00,514.70 427.80,514.41 428.40,515.08 429.00,515.07 429.60,514.63 430.20,514.37 430.80,514.42 432.20,513.91 432.50,513.46 432.80,512.07 433.10,508.84 433.30,505.05 433.70,491.52 434.80,417.54 435.10,403.98 435.30,401.13 435.60,408.56 435.80,417.43 436.70,473.42 437.20,496.31 437.70,507.96 438.00,511.11 438.40,513.22 438.60,513.72 438.90,514.05 439.80,514.29 440.40,514.65 441.00,514.86 441.60,514.34 442.20,514.39 442.80,514.63 443.40,514.72 444.00,513.77 444.60,514.86 445.80,514.51 446.40,515.03 447.60,513.99 448.20,514.30 449.40,514.43 450.00,514.60 450.60,514.31 451.20,514.70 451.80,514.80 453.00,514.33 453.60,514.54 454.20,514.42 454.80,515.38 455.40,514.24 456.00,513.83 456.60,514.19 457.20,514.78 457.80,514.97 458.40,514.57 459.00,515.02 459.60,514.41 460.20,514.86 460.80,514.33 461.40,514.19 462.00,515.40 462.60,514.57 463.80,515.18 464.40,514.90 465.00,514.76 465.60,514.31 466.20,515.22 466.80,514.31 467.40,513.97 468.00,514.47 468.60,514.49 469.20,514.69 469.80,515.10 470.40,514.49 471.00,514.54 471.60,514.28 471.90,513.60 472.10,512.84 472.40,511.11 472.60,508.86 473.00,498.61 473.30,483.05 473.60,458.54 474.60,345.47 474.80,332.40 475.00,327.81 475.20,331.49 475.50,349.66 476.40,444.62 476.90,483.71 477.40,504.17 477.70,509.79 478.00,512.23 478.40,513.52 478.60,513.84 479.00,514.18 480.00,514.83 480.60,514.47 481.20,514.40 481.80,515.07 482.40,514.57 483.00,514.44 483.60,514.61 484.20,514.13 484.80,514.26 485.40,514.98 486.00,514.65 486.60,514.99 487.20,514.49 487.80,515.00 488.40,514.37 489.00,514.56 489.60,514.35 490.80,515.21 491.40,514.07 492.00,514.75 492.60,514.21 493.20,514.54 493.80,514.45 494.40,514.05 495.00,514.57 495.60,514.20 496.20,515.22 496.80,514.39 497.40,514.78 498.60,514.69 499.20,514.57 499.80,514.11 500.40,515.35 501.00,514.68 501.60,514.95 502.20,514.28 502.80,514.85 503.40,514.53 504.00,514.84 504.60,514.46 505.20,514.34 505.80,514.84 506.40,514.68 507.00,515.20 507.60,514.59 508.20,514.39 508.80,514.89 509.40,514.30 510.00,515.43 511.20,515.19 511.80,514.87 512.40,514.69 513.40,514.72" stroke="#4ea54e"/>
<path d="M42.00,507.87 42.60,508.60 43.20,507.88 44.40,508.38 45.00,507.85 46.20,508.70 46.80,508.51 47.40,507.28 48.00,508.68 48.60,507.94 49.20,507.77 49.80,507.76 50.40,508.55 51.00,508.17 52.20,507.69 52.80,508.31 53.40,508.53 54.00,507.61 54.60,507.56 55.80,508.29 56.40,507.86 57.00,507.99 57.60,507.68 58.20,508.56 58.80,507.98 59.40,508.10 60.00,508.51 60.60,507.94 61.80,508.21 62.40,507.86 63.00,508.64 63.60,508.06 64.20,507.85 64.80,507.91 65.40,507.57 66.00,508.54 66.60,508.67 67.20,507.93 67.80,507.84 68.40,507.13 69.60,508.40 70.20,507.69 70.80,508.39 71.40,508.67 72.00,506.92 72.60,507.89 73.20,507.73 73.80,507.79 74.40,507.26 75.00,507.91 75.60,507.51 76.20,508.47 76.80,508.63 77.40,507.43 78.00,507.41 78.60,507.82 79.80,507.96 80.40,508.33 81.00,507.38 81.60,507.75 82.60,507.83 82.90,508.66 83.00,508.60 83.10,508.14 83.40,498.07 83.70,466.61 84.30,327.06 84.50,308.16 84.60,308.64 84.80,313.36 85.10,328.34 86.50,443.72 86.90,468.81 87.20,481.83 87.60,492.77 88.10,499.32 88.40,501.32 88.70,502.44 89.00,503.06 89.40,503.49 90.00,504.58 90.60,503.70 91.20,504.42 91.80,504.27 92.40,503.68 93.00,504.04 93.60,503.57 94.20,502.58 94.80,503.59 95.40,503.61 96.00,504.30 96.60,504.19 97.20,504.37 97.80,504.14 98.40,504.38 99.60,504.01 100.20,504.34 100.80,504.52 101.40,504.50 102.00,503.72 102.60,503.89 103.20,503.48 103.80,503.47 104.40,504.06 105.00,503.63 105.60,504.53 106.20,502.95 107.40,504.01 108.00,504.41 108.60,503.76 109.20,504.71 109.80,504.25 110.40,503.60 111.60,504.13 112.20,503.51 112.80,504.36 113.40,503.80 114.00,504.13 114.60,504.28 115.20,503.72 115.80,504.34 116.40,503.11 117.00,504.17 117.60,503.07 118.20,504.38 118.80,503.66 119.40,504.43 120.00,504.49 120.60,503.85 121.20,503.63 121.80,504.46 122.40,503.41 123.00,504.26 123.60,503.86 124.80,503.66 125.40,504.68 126.00,503.23 127.20,504.10 128.40,504.64 129.00,504.50 129.60,503.69 130.80,504.40 131.40,504.14 132.00,503.25 132.60,504.06 133.20,504.17 133.80,503.34 134.40,503.72 135.60,504.18 136.20,504.58 138.60,503.77 139.20,503.68 139.80,503.82 140.40,503.82 141.60,504.84 142.20,504.14 142.80,504.32 144.00,504.03 144.60,504.45 145.20,504.39 145.80,503.96 146.40,503.87 147.00,504.20 147.60,503.71 148.80,504.35 149.40,503.90 150.00,503.12 150.60,504.21 151.20,503.42 152.40,503.28 153.00,504.27 153.60,503.06 154.20,503.87 154.80,504.03 155.40,504.02 156.00,503.66 156.60,503.90 157.20,503.99 157.80,503.37 158.40,504.23 159.00,504.36 159.60,503.58 160.20,503.62 160.80,503.45 161.40,504.37 162.00,503.46 162.60,503.71 163.20,503.17 163.80,504.45 164.40,503.82 165.00,504.04 165.60,504.59 166.20,504.22 166.80,503.44 167.40,504.12 168.00,504.23 168.60,503.55 169.80,503.50 170.40,504.25 171.00,503.94 171.60,503.48 172.20,504.20 172.80,504.24 173.40,503.57 174.00,503.25 174.60,504.41 175.20,505.02 175.80,504.54 176.40,504.35 177.60,503.66 178.80,504.22 179.40,503.85 180.00,504.33 180.60,503.94 181.20,504.19 181.80,502.78 183.00,504.27 183.60,504.34 184.20,504.10 184.80,504.62 185.40,504.23 186.00,504.23 186.60,503.54 187.20,504.10 188.40,504.49 189.00,504.42 189.60,503.95 190.20,504.01 190.80,503.43 191.40,504.19 192.00,503.47 192.60,503.81 193.20,503.92 193.80,504.77 194.40,504.47 195.00,503.60 195.60,503.32 196.20,503.83 196.80,503.59 197.40,504.09 198.00,504.08 198.60,504.20 199.20,503.50 200.40,504.02 201.00,504.06 201.60,503.68 202.20,503.78 202.80,504.27 203.40,503.19 204.00,503.81 204.60,503.91 205.20,503.29 205.80,503.48 206.40,503.96 207.00,503.69 207.60,504.37 208.20,504.19 208.80,504.88 209.40,503.40 210.00,504.73 210.60,503.63 211.20,504.27 211.80,504.33 212.40,504.00 213.60,503.66 214.20,503.16 214.80,503.77 215.40,503.54 216.00,504.17 216.60,503.61 217.80,504.11 218.40,503.96 220.20,503.75 220.80,504.13 221.40,504.23 222.00,503.60 222.30,504.12 222.70,507.40 223.20,507.02 223.80,506.09 224.40,507.91 225.00,507.05 225.60,506.46 226.20,507.46 226.80,505.65 227.40,507.86 228.00,506.14 228.60,506.09 229.20,506.37 229.80,506.85 230.40,506.60 231.00,507.14 231.60,506.41 232.20,507.23 232.80,506.87 233.40,506.33 234.00,507.23 235.20,506.69 235.80,507.33 236.40,506.26 237.00,506.61 237.60,507.40 238.20,506.78 238.80,507.09 239.40,507.04 240.00,506.72 240.60,507.06 241.20,506.35 241.80,507.06 242.40,506.34 243.00,506.77 243.60,506.39 244.20,506.99 244.80,506.97 245.40,507.25 246.00,506.51 246.60,506.36 247.20,505.85 248.40,506.65 249.00,506.85 249.60,506.59 250.20,506.77 250.80,506.13 251.40,506.35 252.00,507.11 252.60,507.05 253.20,506.17 253.80,506.62 254.40,506.85 255.00,506.25 255.60,506.92 256.20,506.87 256.80,506.95 257.40,507.59 258.00,506.39 258.60,507.27 259.20,507.00 259.80,507.07 260.40,506.45 261.00,506.78 261.60,506.75 262.20,507.47 262.80,506.79 263.40,507.38 264.00,506.63 264.60,506.60 265.20,506.76 265.80,505.89 266.40,506.53 267.00,506.50 268.20,506.84 268.80,506.34 269.40,506.29 270.00,507.31 270.60,506.31 271.20,506.54 271.80,506.35 272.40,506.56 273.00,507.29 273.60,507.26 274.20,505.98 275.40,507.36 276.00,506.61 276.60,506.91 277.20,507.54 277.80,507.73 278.40,507.44 279.00,506.64 280.20,506.86 281.40,506.50 282.00,507.65 282.60,506.88 283.80,507.28 285.00,506.81 285.60,506.87 286.20,507.38 286.80,506.96 287.40,505.90 288.00,507.20 288.60,507.47 289.20,506.64 289.80,506.50 290.40,506.56 291.00,507.23 291.60,506.33 292.20,507.09 292.80,507.24 294.00,506.80 294.60,506.45 295.20,506.49 295.80,506.77 296.40,506.36 297.00,506.72 297.60,506.37 298.20,507.35 298.80,507.43 299.40,506.43 300.00,507.35 300.60,506.88 301.20,506.80 301.80,506.96 302.40,506.95 303.00,506.16 303.60,507.83 304.20,506.38 304.80,505.78 305.40,506.75 306.00,506.76 306.60,506.45 307.20,505.98 307.80,507.26 308.40,506.72 309.00,506.84 309.60,506.52 310.20,506.69 310.80,506.47 311.40,506.94 312.00,506.73 312.60,507.04 313.20,507.04 313.80,506.82 314.40,506.82 315.00,507.25 315.60,506.09 316.20,506.81 316.80,507.34 317.40,506.29 318.00,507.07 318.60,506.54 319.20,506.76 319.80,506.65 320.40,506.68 321.00,507.00 321.60,506.74 322.20,505.89 322.80,507.71 323.40,506.73 324.00,506.57 324.60,507.20 325.20,507.34 325.80,505.84 326.40,506.91 327.00,505.87 327.60,506.53 328.20,506.72 329.40,506.49 330.00,506.25 330.60,506.57 331.20,506.69 331.80,506.68 332.40,506.18 333.00,506.41 333.60,507.18 334.20,507.03 334.80,506.62 335.40,507.02 336.00,506.92 336.60,507.16 338.40,506.33 339.00,506.75 339.60,505.87 340.20,506.79 340.80,505.40 341.40,506.33 342.00,506.54 342.60,506.97 343.20,507.96 343.80,506.82 344.40,506.68 345.00,505.94 345.60,507.34 346.20,505.94 346.80,506.86 347.40,506.45 348.00,507.84 348.60,506.70 349.20,506.90 349.80,506.47 350.40,506.72 351.00,507.24 351.60,506.35 352.80,506.50 353.40,506.33 354.00,506.29 355.20,507.33 355.80,507.35 356.40,506.18 358.20,506.94 358.80,506.74 359.40,506.75 360.60,507.05 361.20,505.83 361.80,506.66 363.00,507.31 363.60,507.06 364.20,506.45 364.80,506.43 365.40,506.85 366.00,506.73 366.60,506.89 367.20,507.23 367.80,506.20 368.40,506.60 369.00,505.70 369.60,507.08 370.20,506.81 370.80,506.38 372.00,507.35 372.60,507.16 373.20,506.71 373.80,506.61 374.40,506.80 375.00,506.33 375.60,506.33 376.20,506.62 377.40,506.86 378.00,506.52 378.60,506.36 379.20,506.73 379.80,506.56 381.00,507.36 381.60,507.18 382.20,506.43 382.80,506.57 383.40,506.08 384.00,506.73 384.60,506.39 385.20,506.19 385.80,506.33 386.40,507.01 387.60,506.70 388.20,507.18 388.80,506.55 389.40,506.32 390.00,506.96 390.60,505.92 391.20,506.88 392.40,506.86 393.00,507.06 393.60,506.58 394.20,506.75 394.80,506.05 395.40,506.50 396.00,506.53 396.60,506.85 397.20,507.36 397.80,506.79 398.40,507.12 399.00,506.35 399.60,506.77 400.20,506.01 400.80,506.32 401.40,506.18 402.00,506.34 402.60,506.25 403.80,505.76 404.40,506.36 405.00,505.75 405.60,504.75 406.20,505.80 407.40,505.87 408.00,506.10 408.60,504.92 409.20,505.35 409.80,505.20 410.40,504.49 411.00,504.14 411.60,505.30 412.00,503.96 412.30,502.13 412.70,497.05 413.00,488.91 413.30,474.97 413.80,434.88 414.70,332.82 415.00,310.53 415.20,304.38 415.30,304.39 415.50,309.41 415.80,328.00 416.80,430.21 417.40,474.64 417.70,487.57 418.00,495.60 418.40,501.12 418.80,503.35 419.00,503.63 419.20,503.69 419.40,503.62 420.00,504.25 421.20,504.86 421.80,504.65 422.40,504.96 423.00,504.47 423.60,504.41 424.20,505.40 424.80,504.53 425.40,504.27 426.00,504.48 426.60,504.96 427.20,504.02 427.80,504.86 428.40,505.10 429.00,505.04 430.20,504.17 430.80,504.10 431.40,504.51 432.00,505.09 433.20,504.45 433.80,503.33 434.40,503.02 434.80,502.08 435.00,501.76 435.10,501.74 435.30,501.77 435.60,502.01 436.20,503.34 436.80,503.91 437.40,504.91 438.00,505.26 438.60,504.95 439.20,504.20 439.80,504.26 440.40,504.90 441.00,504.20 441.60,504.85 442.20,504.08 443.40,504.93 444.00,504.40 444.60,505.08 445.20,505.15 445.80,505.38 446.40,504.66 448.20,504.96 448.80,504.18 449.40,504.98 450.00,505.11 450.60,504.28 451.20,504.21 451.80,504.68 452.40,505.57 453.00,505.03 453.40,504.46 453.80,503.49 454.10,501.87 454.40,498.14 454.60,494.04 455.10,477.82 456.00,435.16 456.20,430.01 456.40,428.33 456.70,431.91 457.00,438.57 458.10,477.23 458.70,492.62 459.00,497.68 459.40,501.74 459.70,503.42 459.90,504.03 460.20,504.56 461.40,505.12 462.00,504.23 462.60,504.21 463.80,505.27 464.40,504.90 465.00,505.16 465.60,504.27 466.20,504.77 466.80,504.71 467.40,505.10 468.00,505.80 468.60,505.28 469.20,505.44 469.80,504.81 470.40,504.94 471.00,505.33 471.60,505.16 472.20,504.34 472.80,505.42 473.40,505.42 474.00,505.13 474.60,505.34 475.20,505.23 476.40,504.33 477.00,505.83 477.60,505.09 480.00,505.25 480.60,504.69 481.20,505.32 481.80,505.18 483.00,505.10 483.60,505.22 484.20,504.73 484.80,505.17 485.40,505.10 486.00,505.20 486.60,505.61 487.20,505.54 487.80,505.64 488.40,505.12 489.00,505.51 489.60,505.67 490.20,505.12 490.80,505.01 491.40,505.99 492.00,504.52 492.60,505.24 493.20,505.30 493.80,504.81 495.00,505.53 495.60,504.35 496.20,505.75 497.40,504.94 498.00,505.76 498.60,505.36 499.20,505.16 499.80,504.31 500.40,505.71 501.60,505.07 502.20,505.32 502.80,505.87 503.40,505.19 504.00,505.33 504.60,505.19 505.20,504.91 505.80,504.96 506.40,505.23 507.00,505.27 507.60,505.88 508.20,505.48 508.80,505.33 509.40,505.60 510.00,505.40 510.60,505.80 511.20,504.80 511.80,504.54 512.40,505.63 513.00,505.30 513.40,505.48" stroke="#ff6c6c"/>
<path d="M42.00,504.19 42.60,504.67 43.20,505.61 43.80,503.45 44.40,505.18 45.00,504.47 45.60,504.50 46.20,503.73 46.80,504.92 47.40,503.98 48.00,505.10 48.60,503.91 49.20,505.11 49.80,504.86 50.40,503.42 51.00,504.42 51.60,504.56 52.20,503.20 52.80,504.40 53.40,505.15 54.00,504.16 54.60,505.38 55.20,503.91 55.80,503.86 56.40,504.99 57.00,505.03 57.60,504.51 58.20,504.62 58.80,505.25 59.40,504.26 60.00,505.93 60.60,504.90 61.80,504.80 62.40,504.43 63.00,505.41 63.60,504.25 64.20,504.74 64.80,505.04 65.40,505.50 66.00,505.38 66.60,504.40 67.20,505.24 68.40,503.95 69.00,503.97 69.60,503.63 70.20,504.82 70.80,505.32 71.40,503.98 72.00,504.43 72.60,503.91 73.20,504.62 73.80,503.86 74.40,504.09 76.80,504.48 77.40,504.48 78.00,504.00 78.60,504.95 79.20,503.52 79.80,504.70 80.40,504.00 81.00,504.68 81.50,504.77 81.60,504.76 82.00,503.55 82.30,501.56 82.40,499.85 82.70,482.02 83.30,359.07 83.50,338.38 83.60,338.24 83.70,339.82 83.90,347.58 84.90,417.07 86.00,470.89 86.50,296.46 91.80,296.46 92.60,495.75 93.00,499.09 93.30,499.20 93.60,498.95 95.40,501.85 96.00,500.26 96.60,501.18 97.20,500.81 97.80,500.64 98.40,501.93 99.00,501.13 99.60,501.84 101.40,501.76 102.00,501.07 102.60,501.72 103.20,501.91 103.80,502.00 104.40,501.61 105.00,502.41 106.20,501.89 106.80,502.22 107.40,501.94 108.00,502.26 108.60,500.59 109.80,501.59 110.40,501.92 111.00,500.49 111.60,501.68 112.20,501.95 112.80,501.70 113.40,501.70 114.00,501.00 114.60,501.91 115.20,500.56 115.80,502.46 116.40,501.46 117.00,502.54 117.60,500.75 118.20,502.12 118.80,501.94 119.40,501.32 120.00,501.11 120.60,502.62 121.20,502.13 121.80,502.80 122.40,501.83 124.20,502.35 124.80,502.16 125.40,502.39 126.60,500.95 127.20,503.15 127.80,501.99 128.40,502.19 128.60,501.99 129.20,296.46 134.50,296.46 135.10,448.11 135.60,460.11 136.20,470.06 136.90,476.86 138.00,485.14 138.20,485.36 138.30,485.17 138.60,482.58 138.90,474.18 139.10,464.34 139.90,401.17 140.10,390.40 140.20,387.69 140.30,387.06 140.50,391.00 140.70,400.64 141.50,460.77 142.00,484.59 142.30,491.44 142.70,495.81 142.90,496.59 143.10,496.74 143.40,496.67 144.00,498.04 144.10,498.11 144.60,498.42 145.20,497.42 145.80,498.76 147.00,498.45 147.60,498.56 148.20,499.49 148.80,499.43 149.40,500.15 150.00,498.65 150.60,499.48 151.10,500.52 151.70,296.46 156.50,296.46 157.10,475.92 157.20,477.85 157.50,481.41 158.30,488.52 159.00,493.30 160.20,494.96 160.80,496.81 161.70,497.50 162.00,497.63 162.60,497.68 163.80,499.22 164.40,498.45 165.00,499.55 165.60,499.74 166.20,500.49 166.80,500.28 167.40,499.51 168.00,501.09 168.60,500.23 169.20,499.83 169.80,500.62 170.40,500.32 171.00,501.26 171.60,499.78 172.20,499.98 172.80,500.60 173.40,501.92 174.00,501.52 174.60,500.28 175.20,499.85 175.80,500.80 176.40,500.23 177.00,501.45 178.80,500.89 179.40,502.16 180.00,500.61 180.60,500.39 181.20,501.99 181.80,502.15 182.40,501.08 183.00,501.74 183.60,502.86 184.20,500.85 185.40,501.70 186.00,500.06 186.60,501.34 187.20,501.92 187.80,501.39 188.40,502.13 189.00,501.97 189.60,501.24 190.20,501.86 190.80,501.80 191.40,500.46 192.00,500.99 193.80,501.25 194.40,500.64 195.00,501.59 195.60,500.40 196.20,502.20 196.80,501.77 197.40,502.49 199.20,500.70 199.80,502.06 200.40,501.64 202.20,502.42 202.80,501.63 203.40,502.78 204.00,501.61 204.60,501.67 205.20,502.11 206.40,502.58 207.00,500.50 207.60,502.56 208.20,500.71 210.00,502.46 210.60,501.06 211.20,500.62 211.80,502.33 212.40,501.92 213.00,501.07 213.60,501.53 214.20,500.47 214.80,502.11 215.40,501.40 216.00,502.55 216.60,500.42 217.20,502.22 217.80,503.17 218.40,501.84 219.00,501.85 219.60,500.55 220.20,501.99 220.80,501.78 221.40,501.40 222.00,500.77 222.60,501.82 223.20,501.12 223.80,501.45 224.40,501.98 225.00,501.74 225.60,501.77 226.20,502.38 226.80,501.02 227.40,502.68 228.00,501.05 228.60,501.19 229.20,501.86 229.80,502.29 231.00,501.51 231.60,501.33 232.20,501.63 232.80,501.18 233.40,502.17 234.00,501.67 234.60,502.82 235.20,501.33 236.40,502.09 237.00,501.08 237.60,501.38 238.20,503.62 238.80,501.80 239.40,502.76 240.00,501.15 240.60,500.24 241.20,502.16 241.80,501.78 242.40,501.99 243.00,501.61 243.60,501.42 244.20,501.01 244.80,502.47 245.40,500.84 246.00,502.43 246.60,501.66 247.20,501.10 247.80,501.39 248.40,502.44 249.60,502.14 250.20,501.88 250.80,501.12 251.40,502.67 252.00,501.55 252.60,501.46 253.80,501.55 254.40,500.88 255.00,501.54 255.60,501.31 256.20,501.50 256.80,500.71 257.40,503.07 258.00,501.04 258.60,502.02 259.20,502.04 260.40,503.05 261.00,502.10 261.60,502.30 262.20,501.55 262.80,502.80 263.40,500.95 264.00,501.69 265.20,502.32 265.80,502.37 266.40,502.59 267.60,501.86 268.20,501.98 268.80,502.77 269.40,502.04 270.00,502.44 270.60,501.77 271.20,500.68 273.00,502.91 273.60,502.78 274.20,502.95 274.80,501.41 275.40,502.36 276.00,501.84 276.60,502.27 277.20,501.82 277.80,500.98 278.40,502.31 279.00,502.10 279.60,502.39 280.20,501.32 280.80,502.53 282.00,502.77 282.60,502.78 283.80,500.24 284.40,502.52 285.00,501.27 285.60,501.72 286.20,502.59 286.80,502.06 287.40,502.03 288.00,502.33 288.60,500.65 289.20,503.10 289.80,501.64 290.40,501.67 291.00,502.26 292.20,501.33 292.80,501.79 294.00,501.45 294.60,503.19 295.20,500.94 295.80,500.43 296.40,501.26 297.00,501.24 297.60,502.79 298.20,501.97 298.80,502.41 299.40,502.27 300.00,501.27 300.60,502.40 301.20,501.97 301.80,503.11 302.40,501.99 303.00,501.83 303.60,502.34 304.20,502.35 304.80,500.69 305.40,502.67 306.60,502.41 307.20,501.13 307.80,500.55 308.40,501.68 309.00,502.35 309.60,502.17 310.20,501.22 310.80,502.48 311.40,500.97 312.00,500.99 312.60,501.85 313.20,501.48 313.80,501.42 314.40,500.90 315.00,502.57 315.60,501.14 316.20,502.14 316.80,502.39 317.40,501.83 318.00,502.04 319.20,502.92 319.80,502.50 320.40,500.97 321.00,500.65 321.60,501.48 322.20,501.14 322.80,502.23 324.00,501.72 324.60,502.59 325.20,502.53 325.80,501.84 326.40,502.11 327.00,502.58 327.60,501.66 328.20,502.07 328.80,501.25 329.40,501.91 330.00,502.09 330.60,501.82 331.80,502.33 332.40,502.16 333.00,501.42 333.60,501.49 334.20,501.08 334.80,502.99 335.40,502.16 336.00,502.17 336.60,501.79 337.20,502.19 337.80,502.23 338.40,501.41 339.00,501.79 339.60,502.65 340.20,501.05 340.80,501.27 341.40,502.27 342.00,501.38 342.60,502.38 343.20,501.19 343.80,502.05 344.40,502.42 345.00,502.14 345.60,502.40 346.20,501.78 347.40,501.88 348.00,502.26 348.60,504.25 349.20,501.85 349.80,503.12 350.40,501.75 351.00,501.19 352.20,502.16 353.40,501.99 354.00,502.26 354.60,502.28 355.20,502.50 355.80,501.15 356.40,501.92 357.00,501.30 357.60,502.07 358.20,501.86 358.80,502.02 359.40,501.61 360.00,501.38 360.60,501.76 361.20,502.34 361.80,502.41 362.40,500.85 363.00,502.09 363.60,502.10 364.20,500.98 365.40,501.57 366.00,502.17 366.60,500.41 367.20,501.66 367.80,501.56 368.40,502.02 369.00,502.81 369.60,502.76 370.20,501.65 370.80,501.66 371.40,502.07 372.00,502.66 372.30,502.75 372.50,497.70 372.60,497.72 373.20,497.01 373.80,497.73 374.40,496.23 375.00,496.07 375.60,495.00 376.20,496.24 376.80,497.18 377.40,497.36 378.00,499.01 378.60,497.18 379.20,496.92 379.80,496.19 380.40,496.41 381.00,496.43 381.60,496.67 382.20,496.38 382.80,495.88 383.40,497.49 384.00,497.10 384.60,497.69 385.20,495.77 385.80,495.98 386.40,496.33 387.00,497.57 387.60,496.70 388.20,496.96 388.80,496.75 389.40,496.93 390.00,496.47 390.60,497.06 391.20,496.26 392.40,496.99 393.00,496.88 393.60,497.09 394.20,496.29 394.80,496.98 395.40,496.62 396.00,497.06 396.20,502.68 396.60,503.15 397.20,501.62 397.80,502.88 398.40,501.77 399.00,501.93 399.60,503.26 400.20,502.80 400.80,502.53 402.00,502.95 402.60,501.73 403.20,502.35 403.80,501.95 404.40,502.48 405.00,502.01 405.50,502.46 406.30,296.46 416.00,296.46 416.10,296.64 416.60,403.35 418.10,431.45 419.40,447.52 420.60,460.92 422.00,473.64 422.40,475.10 423.60,482.07 424.40,485.45 424.80,486.11 425.40,486.60 426.60,489.39 427.20,489.76 428.20,490.77 429.50,296.46 433.80,296.46 435.40,425.44 436.30,453.47 436.80,462.65 437.70,474.99 439.20,482.35 439.80,486.40 441.60,491.73 441.90,492.33 442.20,492.55 442.80,494.26 443.40,494.74 443.70,494.48 444.00,493.80 444.20,493.68 444.40,493.38 444.70,492.35 445.00,490.36 445.60,484.69 446.80,464.77 447.10,461.68 447.30,460.68 447.40,460.55 447.60,461.27 447.90,465.18 448.90,485.11 449.30,491.46 449.70,494.98 450.10,496.47 450.30,496.72 450.60,496.64 451.20,494.89 451.80,494.00 452.10,493.14 452.40,492.80 453.60,497.09 454.00,498.03 454.30,498.39 454.80,498.45 455.40,498.29 456.00,498.42 456.60,498.82 457.20,498.53 457.80,499.04 458.40,498.34 459.00,499.18 459.60,500.51 460.20,498.37 461.40,500.09 462.00,499.52 462.60,500.02 463.20,498.17 464.40,500.60 465.00,499.28 465.60,499.92 466.20,498.47 466.80,500.40 467.40,501.19 468.00,499.75 468.60,500.05 469.20,500.11 469.80,501.02 470.10,499.54 470.40,496.63 470.80,488.00 471.20,469.99 471.90,425.15 472.20,416.96 472.40,419.88 472.60,427.40 473.70,485.01 474.10,495.00 474.30,497.42 474.60,499.35 474.70,499.51 474.90,499.59 475.20,499.40 475.80,499.87 476.40,500.62 477.00,499.82 478.20,501.48 478.80,499.07 479.40,500.62 480.00,500.82 480.60,500.24 481.20,501.49 481.80,501.39 482.40,500.88 483.00,500.92 483.60,500.57 484.20,499.94 484.80,500.99 485.40,500.40 486.00,500.36 486.60,501.47 487.20,500.67 487.80,501.45 488.40,500.20 489.60,500.93 490.20,501.83 490.80,500.93 491.40,501.52 492.00,500.62 493.20,501.65 493.80,500.57 494.40,500.73 495.00,501.60 495.60,500.52 496.20,501.48 496.80,501.52 497.40,501.27 498.00,501.87 499.20,501.55 499.80,500.50 500.40,500.55 501.00,501.71 501.60,500.55 502.20,501.64 503.40,501.11 504.00,501.52 504.60,500.19 505.20,501.61 505.80,502.56 506.40,501.00 507.00,502.13 507.60,502.09 508.20,503.84 508.80,501.32 510.00,501.51 510.60,501.43 511.20,501.01 511.80,502.15 512.40,501.55 513.00,502.66 513.40,502.51" stroke="#6262fa"/>
</g>
<g fill="#1a1a1a" stroke="#1a1a1a" stroke-width="0.2" font-family="Liberation Sans, sans-serif" font-size="10" letter-spacing="-0.25">
<text x="31.5" y="249.0" text-anchor="end" class="">0</text>
<text x="31.5" y="202.9" text-anchor="end" class="">1</text>
<text x="31.5" y="156.8" text-anchor="end" class="">2</text>
<text x="31.5" y="110.7" text-anchor="end" class="">3</text>
<text x="31.5" y="64.6" text-anchor="end" class="">4</text>
<text x="101.8" y="256.2" text-anchor="middle" class="">5.0</text>
<text x="170.1" y="256.2" text-anchor="middle" class="">7.5</text>
<text x="238.4" y="256.2" text-anchor="middle" class="">10.0</text>
<text x="306.7" y="256.2" text-anchor="middle" class="">12.5</text>
<text x="375.0" y="256.2" text-anchor="middle" class="">15.0</text>
<text x="443.3" y="256.2" text-anchor="middle" class="">17.5</text>
<text x="271.5" y="268.4" text-anchor="middle" class="">Time (min)</text>
<text transform="translate(11,128) rotate(-90)" text-anchor="middle">FID responce (mV)</text>
<text x="249.6" y="20.3" text-anchor="middle" class="">(a)</text>
<text x="39.0" y="519.2" text-anchor="end" class="">12.5</text>
<text x="39.0" y="484.2" text-anchor="end" class="">15.0</text>
<text x="39.0" y="448.8" text-anchor="end" class="">17.5</text>
<text x="39.0" y="413.3" text-anchor="end" class="">20.0</text>
<text x="39.0" y="377.8" text-anchor="end" class="">22.5</text>
<text x="39.0" y="342.3" text-anchor="end" class="">25.0</text>
<text x="39.0" y="306.9" text-anchor="end" class="">27.5</text>
<text x="39.0" y="527.9" text-anchor="end" class="">12.0</text>
<text x="88.3" y="533.6" text-anchor="middle" class="">2</text>
<text x="135.6" y="533.6" text-anchor="middle" class="">3</text>
<text x="182.8" y="533.6" text-anchor="middle" class="">4</text>
<text x="230.1" y="533.6" text-anchor="middle" class="">5</text>
<text x="277.3" y="533.6" text-anchor="middle" class="">6</text>
<text x="324.6" y="533.6" text-anchor="middle" class="">7</text>
<text x="371.8" y="533.6" text-anchor="middle" class="">8</text>
<text x="419.1" y="533.6" text-anchor="middle" class="">9</text>
<text x="466.3" y="533.6" text-anchor="middle" class="">10</text>
<text x="280.5" y="545.7" text-anchor="middle" class="">Time (min)</text>
<text transform="translate(11.5,417.5) rotate(-90)" text-anchor="middle">FID responce (mV)</text>
<text x="235.5" y="304.2" text-anchor="middle" class="">(b)</text>
</g>
<g fill="#1a1a1a" stroke="#1a1a1a" stroke-width="0.2" font-family="Liberation Sans, sans-serif" font-size="10" letter-spacing="-0.2" font-style="italic">
<text x="71.8" y="12.8" text-anchor="middle" class="">1</text>
<text x="89.5" y="12.8" text-anchor="middle" class="">2</text>
<text x="111.9" y="12.8" text-anchor="middle" class="">3</text>
<text x="175.0" y="12.5" text-anchor="middle" class="">4</text>
<text x="317.7" y="159.1" text-anchor="middle" class="">5</text>
<text x="329.8" y="12.5" text-anchor="middle" class="">6</text>
<text x="411.9" y="12.5" text-anchor="middle" class="">7</text>
<text x="446.9" y="12.5" text-anchor="middle" class="">8+10</text>
<text x="420.5" y="94.4" text-anchor="middle" class="">9</text>
<text x="88.7" y="293.7" text-anchor="middle" class="">1</text>
<text x="131.5" y="293.9" text-anchor="middle" class="">3</text>
<text x="154.0" y="293.9" text-anchor="middle" class="">2</text>
<text x="141.0" y="383.6" text-anchor="middle" class="">7</text>
<text x="411.0" y="294.6" text-anchor="middle" class="">6</text>
<text x="431.4" y="294.6" text-anchor="middle" class="">4</text>
<text x="473.9" y="322.9" text-anchor="middle" class="">11</text>
<text x="455.0" y="424.3" text-anchor="middle" class="">5</text>
<text x="446.8" y="459.4" text-anchor="middle" class="">8</text>
</g>
</svg>
</body></html>
